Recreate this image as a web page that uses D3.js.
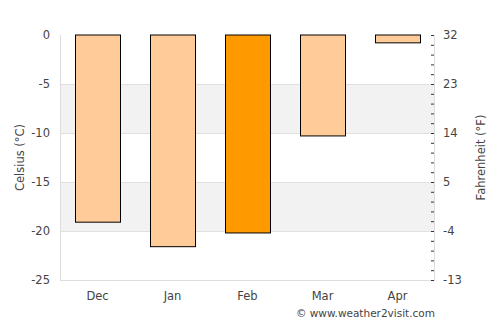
<!DOCTYPE html>
<html>
<head>
<meta charset="utf-8">
<script src="https://cdn.jsdelivr.net/npm/d3@7"></script>
<style>
  body { margin: 0; background: #fff; overflow: hidden; }
  text { font-family: "DejaVu Sans", sans-serif; fill: #444; }
</style>
</head>
<body>
<svg width="500" height="325"></svg>
<script>
const months = ["Dec", "Jan", "Feb", "Mar", "Apr"];
const temps = [-19.1, -21.6, -20.2, -10.3, -0.8];
const highlight = "Feb";
const celsiusTicks = [0, -5, -10, -15, -20, -25];
const bands = [[-5, -10], [-15, -20]];

const svg = d3.select("svg");
const margin = { left: 60, top: 35, right: 65, bottom: 45 };
const width = +svg.attr("width");
const height = +svg.attr("height");
const innerWidth = width - margin.left - margin.right;
const innerHeight = height - margin.top - margin.bottom;

const g = svg.append("g")
    .attr("transform", `translate(${margin.left}, ${margin.top})`);

const x = d3.scaleBand().domain(months).range([0, innerWidth])
    .paddingInner(0.4).paddingOuter(0.2);
const y = d3.scaleLinear().domain([-25, 0]).range([innerHeight, 0]);

// alternating bands
g.selectAll("rect.band")
    .data(bands)
    .enter().append("rect")
        .attr("x", 0)
        .attr("width", innerWidth)
        .attr("y", d => y(d[0]))
        .attr("height", d => y(d[1]) - y(d[0]))
        .attr("fill", "#f2f2f2");

// gridlines
g.selectAll("line.grid")
    .data(celsiusTicks.filter(t => t !== 0 && t !== -25))
    .enter().append("line")
        .attr("x1", 0).attr("x2", innerWidth)
        .attr("y1", d => y(d) + 0.5).attr("y2", d => y(d) + 0.5)
        .attr("stroke", "#e0e0e0");

// axis frame lines
g.append("line").attr("x1", 0.5).attr("x2", 0.5).attr("y1", 0).attr("y2", innerHeight).attr("stroke", "#ddd");
g.append("line").attr("x1", innerWidth - 0.5).attr("x2", innerWidth - 0.5).attr("y1", 0).attr("y2", innerHeight).attr("stroke", "#ddd");
g.append("line").attr("x1", 0).attr("x2", innerWidth).attr("y1", innerHeight + 0.5).attr("y2", innerHeight + 0.5).attr("stroke", "#ddd");

// bars
g.selectAll("rect.bar")
    .data(months)
    .enter().append("rect")
        .attr("x", d => Math.round(x(d)) + 0.5)
        .attr("y", y(0))
        .attr("width", Math.round(x.bandwidth()))
        .attr("height", (d, i) => y(temps[i]) - y(0))
        .attr("fill", d => d === highlight ? "#ff9900" : "#ffcc99")
        .attr("stroke", "#000")
        .attr("stroke-width", 1);

// left axis
const leftAxis = g.append("g")
    .call(d3.axisLeft(y).tickValues(celsiusTicks).tickSize(0).tickPadding(10)
        .tickFormat(d => String(d)));
leftAxis.select(".domain").remove();
leftAxis.selectAll("text").attr("font-size", 11.5).attr("fill", "#444");

// right axis (Fahrenheit), minor tick every 1°C, label every 5°C
const fTicks = d3.range(0, -26, -1);
const rightAxis = g.append("g")
    .attr("transform", `translate(${innerWidth}, 0)`)
    .call(d3.axisRight(y).tickValues(fTicks).tickSize(4).tickPadding(4)
        .tickFormat(d => d % 5 === 0 ? String(Math.round(d * 9 / 5 + 32)) : ""));
rightAxis.select(".domain").remove();
rightAxis.selectAll(".tick line")
    .attr("x1", -4).attr("x2", -1).attr("stroke", "#333");
rightAxis.selectAll("text").filter(d => d % 5 !== 0).remove();
rightAxis.selectAll("text").attr("font-size", 11.5).attr("fill", "#444").attr("x", 8);

// bottom labels
const bottomAxis = g.append("g")
    .attr("transform", `translate(0, ${innerHeight})`)
    .call(d3.axisBottom(x).tickSize(0).tickPadding(12));
bottomAxis.select(".domain").remove();
bottomAxis.selectAll("text").attr("font-size", 11.5).attr("fill", "#444");

// axis titles
svg.append("text")
    .attr("transform", `translate(24, ${margin.top + innerHeight / 2}) rotate(-90)`)
    .attr("text-anchor", "middle")
    .attr("font-size", 11.5)
    .text("Celsius (°C)");

svg.append("text")
    .attr("transform", `translate(485, ${margin.top + innerHeight / 2}) rotate(-90)`)
    .attr("text-anchor", "middle")
    .attr("font-size", 11.5)
    .text("Fahrenheit (°F)");

// credit
svg.append("text")
    .attr("x", 435)
    .attr("y", 317)
    .attr("text-anchor", "end")
    .attr("font-size", 10.5)
    .attr("fill", "#333")
    .text("© www.weather2visit.com");
</script>
</body>
</html>
